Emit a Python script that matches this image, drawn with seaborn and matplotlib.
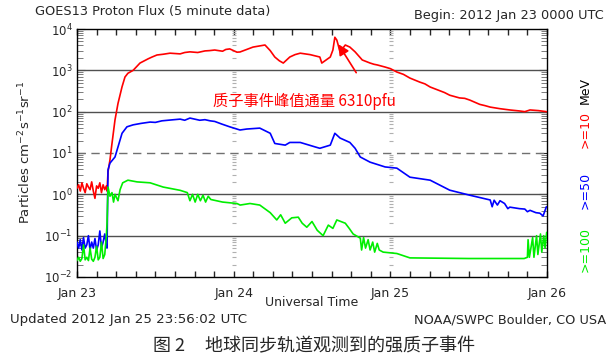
import numpy as np
import pandas as pd
import matplotlib
matplotlib.use("Agg")
import matplotlib.pyplot as plt
import seaborn as sns

# hours since 2012 Jan 23 00:00 UT, flux in pfu
red_t = [0.0, 0.25, 0.5, 0.75, 1.0, 1.25, 1.5, 1.75, 2.0, 2.25, 2.5, 2.75, 3.0, 3.25, 3.5, 3.75, 4.0, 4.25, 4.5,
         4.6, 4.75, 5.05, 5.36, 5.82, 6.28, 6.9, 7.35, 7.8, 8.6, 9.65, 10.9, 11.5, 12.25, 13.2, 14.25, 15.8,
         16.5, 17.3, 18.5, 19.6, 20.3, 21.1, 22.3, 22.8, 23.4, 24.5, 24.97, 26.0, 26.96, 28.0, 28.8, 29.6,
         30.3, 31.0, 31.6, 32.6, 33.4, 34.2, 35.7, 37.2, 37.5, 38.2, 38.8, 39.2, 39.5, 39.8, 40.3, 41.1,
         41.8, 42.6, 43.7, 44.9, 45.5, 46.0, 47.2, 48.0, 49.0, 50.0, 51.0, 52.5, 53.3, 54.1, 55.6, 56.3,
         57.1, 58.6, 59.4, 60.2, 61.7, 62.5, 63.3, 64.8, 66.3, 67.8, 68.6, 69.4, 70.7, 71.9]
red_v = [1.4, 1.7, 1.2, 1.9, 1.4, 1.1, 1.8, 1.5, 1.3, 2.0, 1.2, 0.8, 1.6, 1.4, 1.9, 1.1, 1.7, 1.3, 1.6,
         1.2, 3.5, 6.8, 17, 63, 158, 400, 690, 850, 1000, 1500, 1900, 2100, 2350, 2450, 2600, 2500,
         2700, 2800, 2700, 2950, 3000, 3100, 2900, 3200, 3300, 2750, 2780, 3200, 3650, 3900, 4100, 3000,
         2100, 1700, 1500, 2100, 2400, 2600, 2400, 2100, 1500, 1800, 2100, 3100, 6310, 5400, 2800, 4100,
         3650, 2800, 1780, 1500, 1400, 1350, 1200, 1100, 910, 800, 650, 520, 470, 395, 320, 290,
         250, 215, 210, 190, 150, 140, 129, 118, 110, 104, 100, 110, 106, 100]

blue_t = [0.0, 0.25, 0.5, 0.75, 1.0, 1.25, 1.5, 1.75, 2.0, 2.25, 2.5, 2.75, 3.0, 3.25, 3.5, 3.75, 4.0, 4.25, 4.5,
          4.6, 4.75, 5.05, 5.82, 6.28, 6.9, 7.65, 8.6, 9.8, 11.2, 12.0, 13.0, 14.4, 15.8, 16.5, 17.3,
          18.8, 19.6, 20.4, 21.1, 22.2, 23.4, 24.97, 26.0, 28.0, 29.6, 30.3, 31.9, 32.6, 34.2, 36.5, 37.2,
          38.8, 39.5, 40.3, 41.8, 42.6, 43.4, 44.9, 47.2, 49.0, 51.0, 54.1, 57.1, 60.2, 63.3, 63.6, 63.9,
          64.4, 64.8, 65.5, 66.0, 66.3, 67.8, 68.6, 69.0, 69.4, 70.3, 70.9, 71.4, 71.9]
blue_v = [0.07, 0.05, 0.08, 0.045, 0.09, 0.05, 0.06, 0.1, 0.045, 0.07, 0.05, 0.085, 0.045, 0.06, 0.13, 0.05,
          0.07, 0.11, 0.06,
          0.05, 3.9, 5.7, 8, 14, 30, 43, 48, 52, 56, 55, 60, 63, 66, 62, 70,
          62, 64, 60, 58, 50, 43, 36, 38, 40, 30, 17, 15.5, 18, 18, 14, 13,
          15.5, 30, 23, 18, 13, 8, 6, 4.6, 4.3, 2.6, 2.2, 1.26, 0.95, 0.73, 0.5, 0.72,
          0.55, 0.7, 0.6, 0.45, 0.49, 0.45, 0.44, 0.38, 0.41, 0.36, 0.35, 0.3, 0.5]

green_t = [0.0, 0.25, 0.5, 0.75, 1.0, 1.25, 1.5, 1.75, 2.0, 2.25, 2.5, 2.75, 3.0, 3.25, 3.5, 3.75, 4.0, 4.25, 4.5,
           4.6, 4.75, 5.05, 5.36, 5.6, 5.82, 6.28, 6.6, 7.0, 7.8, 9.2, 11.2, 13.2, 15.8,
           16.9, 17.3, 17.7, 18.1, 18.5, 18.9, 19.3, 19.7, 20.1, 20.5, 22.3, 24.5, 25.0, 26.5, 28.0,
           29.6, 30.6, 31.2, 31.9, 32.9, 33.9, 34.5, 35.2, 36.0, 36.8, 37.7, 38.5, 39.2, 39.8, 41.1,
           41.7, 42.3, 43.4, 43.6, 43.9, 44.2, 44.6, 44.9, 45.3, 45.6, 46.0, 46.3, 46.9, 49.0, 51.0,
           60.0, 68.5, 69.0, 69.1, 69.3, 69.8, 70.0, 70.4, 70.6, 71.0, 71.2, 71.5, 71.7, 71.95]
green_v = [0.025, 0.03, 0.024, 0.028, 0.06, 0.026, 0.03, 0.025, 0.05, 0.027, 0.024, 0.03, 0.055, 0.026, 0.03,
           0.07, 0.028, 0.035, 0.1,
           0.2, 1.5, 0.9, 1.1, 0.65, 1.0, 0.7, 1.3, 1.9, 2.2, 2.0, 1.9, 1.5, 1.25,
           1.1, 0.7, 1.0, 0.65, 1.0, 0.7, 0.95, 0.65, 0.9, 0.75, 0.65, 0.6, 0.55, 0.6, 0.55,
           0.36, 0.24, 0.32, 0.2, 0.27, 0.28, 0.2, 0.16, 0.22, 0.135, 0.1, 0.18, 0.15, 0.24, 0.2,
           0.15, 0.11, 0.087, 0.045, 0.09, 0.05, 0.08, 0.045, 0.07, 0.04, 0.065, 0.045, 0.04, 0.037, 0.029,
           0.028, 0.028, 0.03, 0.08, 0.03, 0.09, 0.03, 0.1, 0.035, 0.11, 0.04, 0.1, 0.05, 0.12]

day_ticks = [0, 24, 48, 72]
day_labels = ["Jan 23", "Jan 24", "Jan 25", "Jan 26"]
decades = [1e-2, 1e-1, 1e0, 1e1, 1e2, 1e3, 1e4]
decade_labels = ["$10^{-2}$", "$10^{-1}$", "$10^{0}$", "$10^{1}$", "$10^{2}$", "$10^{3}$", "$10^{4}$"]

sns.set_style("white")
plt.rcParams['font.family'] = ['DejaVu Sans', 'Noto Sans CJK SC']
cjk = ['Noto Sans CJK SC', 'DejaVu Sans']

df = pd.concat([
    pd.DataFrame({"t": red_t, "flux": red_v, "ch": ">=10"}),
    pd.DataFrame({"t": blue_t, "flux": blue_v, "ch": ">=50"}),
    pd.DataFrame({"t": green_t, "flux": green_v, "ch": ">=100"}),
])

fig = plt.figure(figsize=(6.14, 3.58), dpi=100)
ax = fig.add_axes([77/614, 1-277/358, 470/614, 248/358])

# grid lines at decades
for d in [1e-1, 1e0, 1e2, 1e3]:
    ax.axhline(d, color="#505050", lw=1, zorder=1)
ax.axhline(1e1, color="#707070", lw=1, ls=(0, (6, 4)), zorder=1)

sns.lineplot(data=df, x="t", y="flux", hue="ch", estimator=None, sort=False,
             palette={">=10": "#ff0000", ">=50": "#0000ff", ">=100": "#00ee00"},
             lw=1.2, legend=False, ax=ax, zorder=3)

ax.set_yscale("log")
ax.set_ylim(1e-2, 1e4)
ax.set_xlim(0, 72)
ax.set_yticks(decades)
ax.set_yticklabels(decade_labels, fontsize=8.5)
ax.set_xticks(day_ticks)
ax.set_xticklabels(day_labels, fontsize=9)
ax.set_xticks(np.arange(0, 73, 3), minor=True)
ax.tick_params(axis="x", which="both", direction="in", top=True, bottom=True, length=4, width=1, pad=7)
ax.tick_params(axis="y", which="major", direction="in", left=True, right=True, length=6, pad=3)
ax.tick_params(axis="y", which="minor", direction="in", left=True, right=True, length=4, color="#666666")
ax.set_xlabel("")
ax.set_ylabel("")
for s in ax.spines.values():
    s.set_color("black")
    s.set_linewidth(1)

# faint minor marks at day boundaries
minor_vals = [m * d for d in decades[:-1] for m in range(2, 10)]
for day in day_ticks[1:3]:
    ax.hlines(minor_vals, day - 0.2, day + 0.4, color="#b0b0b0", lw=0.8, zorder=2)

# annotation
ax.annotate("", xy=(39.8, 4900), xytext=(43.0, 770),
            arrowprops=dict(arrowstyle="-|>", color="red", lw=1.2, mutation_scale=16), zorder=5)
ax.text(20.8, 182, "质子事件峰值通量 6310pfu", color="red", fontsize=11, family=cjk, va="center", ha="left")

fig.text(35/614, 1-12/358, "GOES13 Proton Flux (5 minute data)", fontsize=9.3, ha="left", va="center")
fig.text(604/614, 1-16/358, "Begin: 2012 Jan 23 0000 UTC", fontsize=9.3, ha="right", va="center")
fig.text(25/614, 1-152/358, "Particles cm$^{-2}$s$^{-1}$sr$^{-1}$", fontsize=9.5, rotation=90, ha="center", va="center")
fig.text(312/614, 1-303/358, "Universal Time", fontsize=9, ha="center", va="center")
fig.text(10/614, 1-320/358, "Updated 2012 Jan 25 23:56:02 UTC", fontsize=9.6, ha="left", va="center")
fig.text(606/614, 1-320/358, "NOAA/SWPC Boulder, CO USA", fontsize=9.3, ha="right", va="center")
fig.text(585/614, 1-90/358, "MeV", fontsize=9, rotation=90, ha="center", va="center", color="black")
fig.text(585/614, 1-130/358, ">=10", fontsize=9, rotation=90, ha="center", va="center", color="#ff0000")
fig.text(585/614, 1-190/358, ">=50", fontsize=9, rotation=90, ha="center", va="center", color="#0000ff")
fig.text(585/614, 1-250/358, ">=100", fontsize=9, rotation=90, ha="center", va="center", color="#00ee00")
fig.text(314/614, 1-346/358, "图 2     地球同步轨道观测到的强质子事件", fontsize=13, family=cjk,
         ha="center", va="center")

fig.savefig("out.png", dpi=100)
